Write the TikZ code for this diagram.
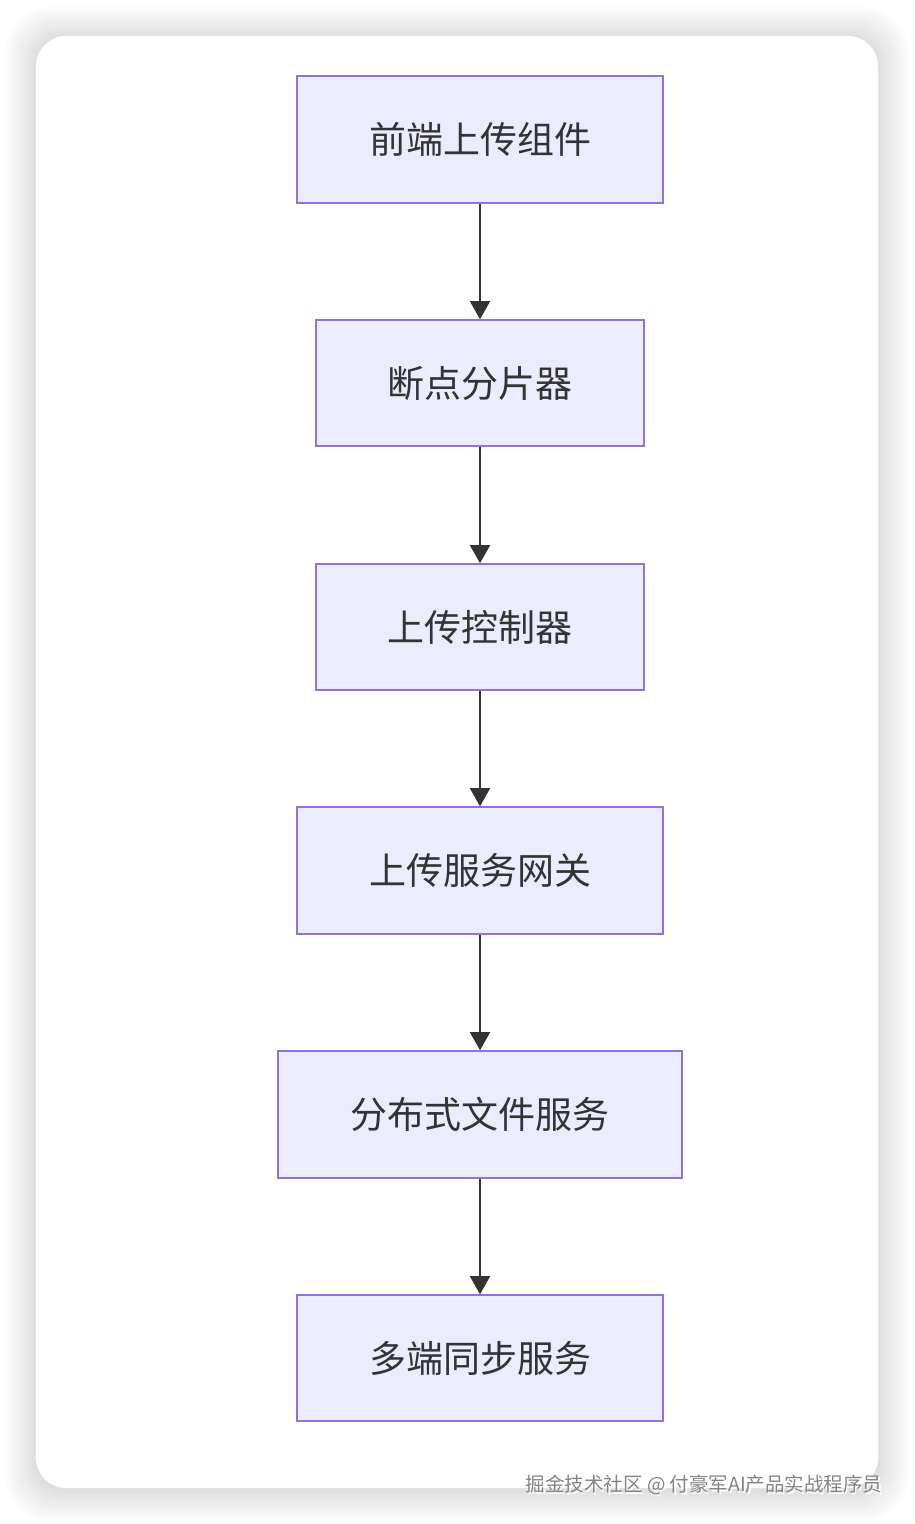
\documentclass[tikz,border=0pt]{standalone}
\usepackage{fontspec}
\setmainfont{Noto Sans CJK SC}
\usetikzlibrary{arrows.meta}
\definecolor{boxfill}{HTML}{ECECFF}
\definecolor{boxline}{HTML}{9370DB}
\definecolor{ink}{HTML}{333333}
\definecolor{wm}{HTML}{858585}
\tikzset{
  stepbox/.style={draw=boxline, fill=boxfill, line width=1.6pt, minimum height=127pt, inner sep=0pt, font=\fontsize{37}{42}\selectfont, text=ink},
  flowarrow/.style={draw=ink, line width=1.6pt, -{Triangle[length=18pt,width=20pt]}}
}
\begin{document}
\begin{tikzpicture}[x=1pt,y=-1pt]
\useasboundingbox (0,0) rectangle (914,1524);
\fill[white] (0,0) rectangle (914,1524);
\foreach \i in {1,...,16}{
  \fill[black, opacity=0.0095, rounded corners={30pt+\i pt}] (36-2*\i,36-2*\i+2) rectangle (878+2*\i,1488+2*\i+2);
}
\fill[white, rounded corners=30pt] (36,36) rectangle (878,1488);
\node[stepbox, minimum width=366pt] (n1) at (480,139.5) {前端上传组件};
\node[stepbox, minimum width=328pt, minimum height=126pt] (n2) at (480,383) {断点分片器};
\node[stepbox, minimum width=328pt, minimum height=126pt] (n3) at (480,627) {上传控制器};
\node[stepbox, minimum width=366pt] (n4) at (480,870.5) {上传服务网关};
\node[stepbox, minimum width=404pt] (n5) at (480,1114.5) {分布式文件服务};
\node[stepbox, minimum width=366pt, minimum height=126pt] (n6) at (480,1358) {多端同步服务};
\draw[flowarrow] (n1) -- (n2);
\draw[flowarrow] (n2) -- (n3);
\draw[flowarrow] (n3) -- (n4);
\draw[flowarrow] (n4) -- (n5);
\draw[flowarrow] (n5) -- (n6);
\node[anchor=east, font=\fontsize{19.5}{22}\selectfont, text=white] (wmshadow) at (887.5,1486.5) {掘金技术社区 @ 付豪军AI产品实战程序员};
\node[anchor=east, font=\fontsize{19.5}{22}\selectfont, text=wm] (wmtext) at (886,1485) {掘金技术社区 @ 付豪军AI产品实战程序员};
\end{tikzpicture}
\end{document}
